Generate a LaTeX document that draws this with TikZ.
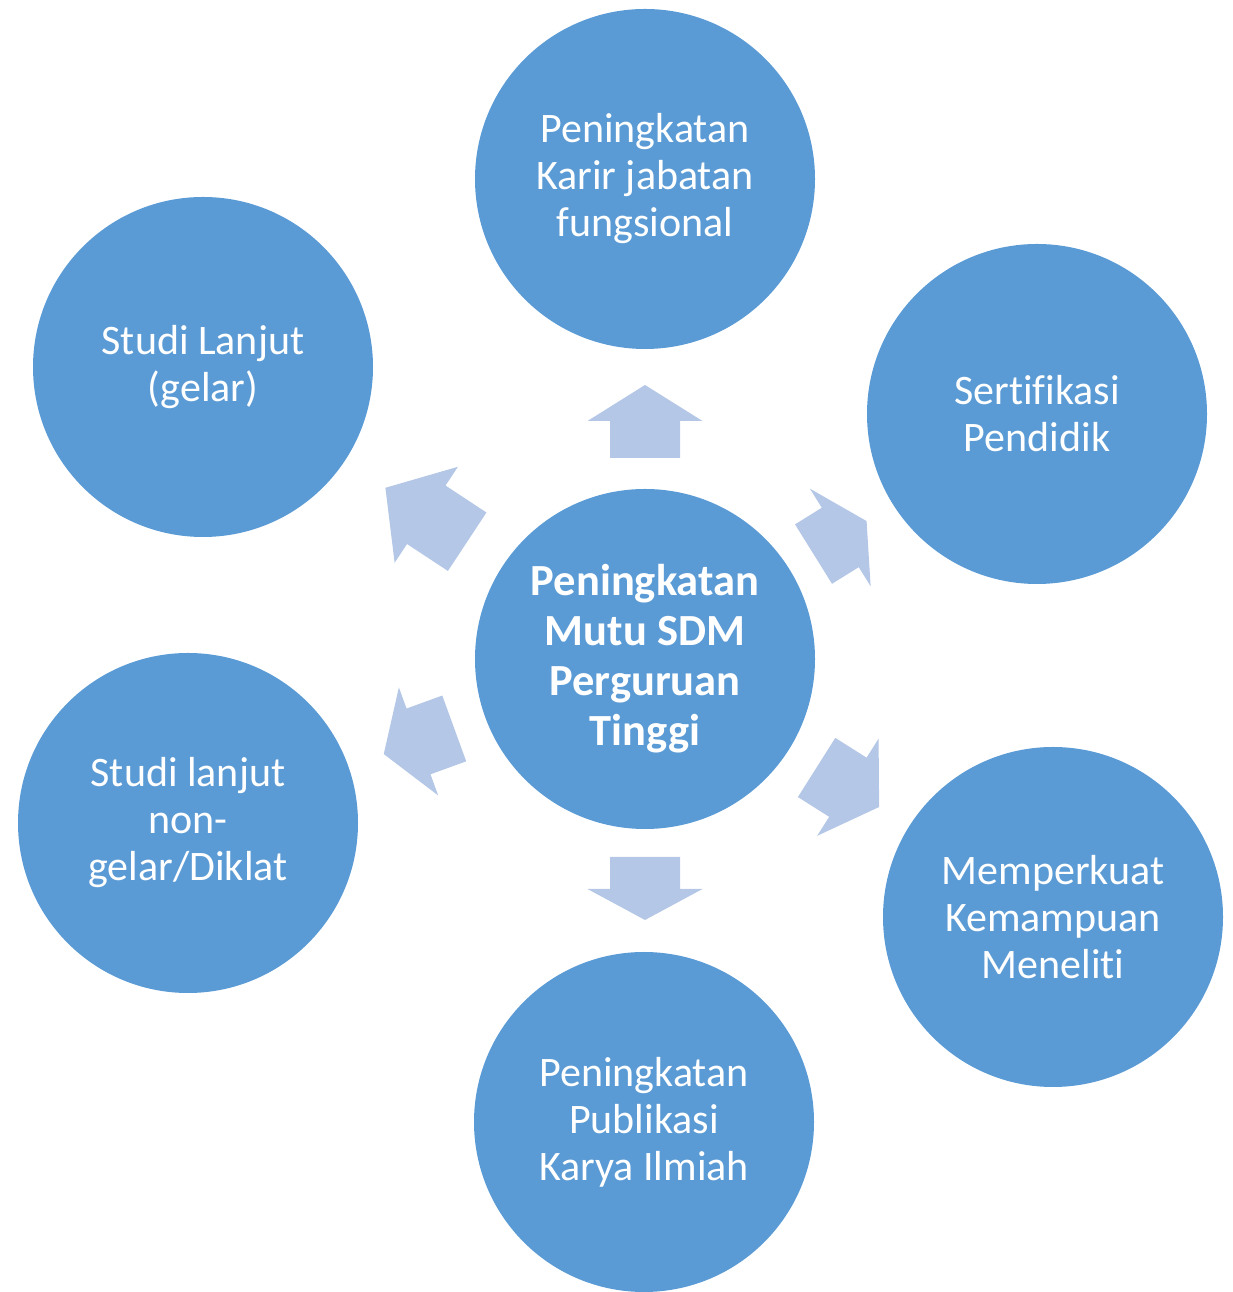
\documentclass[tikz,border=0pt]{standalone}
\usepackage{fontspec}
\setmainfont[Ligatures=NoCommon]{Carlito}
\definecolor{orbblue}{HTML}{5B9BD5}
\definecolor{arrowblue}{HTML}{B4C7E7}
\tikzset{
  orb/.style={circle,fill=orbblue,text=white,minimum size=340pt,inner sep=0pt,
    align=center,font=\fontsize{42}{47}\selectfont},
  hubtext/.style={font=\fontsize{44.5}{50}\selectfont\bfseries}
}
\begin{document}
\begin{tikzpicture}[x=1pt,y=1pt]
\useasboundingbox (0,0) rectangle (1233,1292);
\node[orb,hubtext] (hub) at (645,633) {Peningkatan\\Mutu SDM\\Perguruan\\Tinggi};
\node[orb] (career) at (645,1113) {Peningkatan\\Karir jabatan\\fungsional};
\node[orb] (cert) at (1037,878) {Sertifikasi\\Pendidik};
\node[orb] (research) at (1053,375) {Memperkuat\\Kemampuan\\Meneliti};
\node[orb] (pub) at (644,170) {Peningkatan\\Publikasi\\Karya Ilmiah};
\node[orb] (training) at (188,469) {Studi lanjut\\non-\\gelar/Diklat};
\node[orb] (degree) at (203,925) {Studi Lanjut\\(gelar)};
% block arrows: angle/shaft start/head start/tip
\foreach \ang/\base/\neck/\tip in {90/201/238/274,31.9/198.5/230/261,-32.3/203/240/277,
  -90/198/230/261,-160/203/241/278,146.6/213/262/311}
  \fill[arrowblue,shift={(hub.center)},rotate=\ang] (\base,-35) -- (\neck,-35) -- (\neck,-57.5)
    -- (\tip,0) -- (\neck,57.5) -- (\neck,35) -- (\base,35) -- cycle;
\end{tikzpicture}
\end{document}
